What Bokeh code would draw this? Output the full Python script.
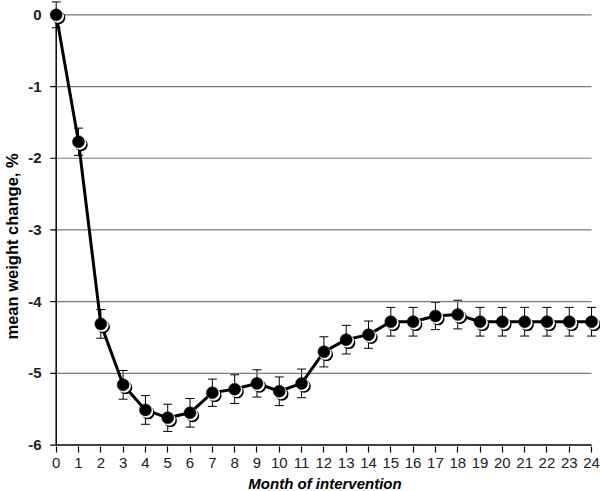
import numpy as np
from bokeh.plotting import figure
from bokeh.models import (ColumnDataSource, Whisker, TeeHead, FixedTicker, Range1d,
                          PrintfTickFormatter)
from bokeh.embed import file_html
from bokeh.resources import INLINE

months = list(range(0, 25))
mean_change = [0.0, -1.77, -4.31, -5.16, -5.51, -5.62, -5.55, -5.27, -5.22, -5.14,
               -5.25, -5.14, -4.70, -4.53, -4.46, -4.28, -4.28, -4.20, -4.18, -4.28,
               -4.28, -4.28, -4.28, -4.28, -4.28]
err = [0.18, 0.19, 0.2, 0.2, 0.2, 0.19, 0.2, 0.19, 0.2, 0.19,
       0.2, 0.2, 0.21, 0.2, 0.19, 0.2, 0.2, 0.19, 0.2, 0.2,
       0.2, 0.2, 0.2, 0.2, 0.2]
y_ticks = [-6, -5, -4, -3, -2, -1, 0]

X0, X1 = months[0], months[-1]
Y0, Y1 = y_ticks[0], y_ticks[-1]

m = np.array(months, dtype=float)
v = np.array(mean_change)
e = np.array(err)

src = ColumnDataSource(dict(x=m, y=v, lo=v - e, hi=v + e))
shadow = ColumnDataSource(dict(x=m + 0.12, y=v - 0.04))
ring = ColumnDataSource(dict(x=m + 0.06, y=v - 0.02))

FONT = "Liberation Sans"

p = figure(frame_width=551, frame_height=446,
           min_border_left=41, min_border_right=0, min_border_top=0, min_border_bottom=43,
           x_range=Range1d(X0 - 0.3, X1 + 0.4), y_range=Range1d(Y0 - 0.02, Y1 + 0.2),
           output_backend="svg", toolbar_location=None)

p.outline_line_color = None
p.background_fill_color = "white"
p.border_fill_color = "white"
p.xgrid.grid_line_color = None
p.ygrid.grid_line_color = None

# grid lines (drawn from the y axis to the last month)
grid_y = [t for t in y_ticks if t != Y0]
p.segment(x0=[X0] * len(grid_y), y0=grid_y, x1=[X1] * len(grid_y), y1=grid_y,
          line_color="#7a7a7a", line_width=1.2)
# y tick marks
p.segment(x0=[X0 - 0.27] * len(y_ticks), y0=y_ticks, x1=[X0] * len(y_ticks), y1=y_ticks,
          line_color="black", line_width=1.2)
# axis lines
p.segment(x0=[X0, X0], y0=[Y0, Y0], x1=[X0, X1], y1=[Y1, Y0],
          line_color="black", line_width=1.5)

p.xaxis.ticker = FixedTicker(ticks=months)
p.yaxis.ticker = FixedTicker(ticks=y_ticks)
p.yaxis.formatter = PrintfTickFormatter(format="%d")
for ax in (p.xaxis[0], p.yaxis[0]):
    ax.axis_line_color = None
    ax.major_tick_line_color = "black"
    ax.major_tick_line_width = 1.2
    ax.major_tick_out = 6
    ax.major_tick_in = 0
    ax.minor_tick_line_color = None
    ax.major_label_text_font = FONT
    ax.major_label_text_color = "#222222"
    ax.axis_label_text_font = FONT
    ax.axis_label_text_color = "black"

p.yaxis.major_tick_line_color = None
p.yaxis.major_tick_out = 0

p.xaxis.major_label_text_font_size = "15px"
p.xaxis.major_label_standoff = 5
p.xaxis.axis_label = "Month of intervention"
p.xaxis.axis_label_text_font_size = "15px"
p.xaxis.axis_label_text_font_style = "bold italic"
p.xaxis.axis_label_standoff = 4

p.yaxis.major_label_text_font_size = "15px"
p.yaxis.major_label_text_font_style = "bold"
p.yaxis.major_label_standoff = 8
# trailing no-break spaces push the rotated title a little lower, as in the original
p.yaxis.axis_label = "mean weight change, %" + "\u00a0" * 10
p.yaxis.axis_label_text_font_size = "16.5px"
p.yaxis.axis_label_text_font_style = "bold"
p.yaxis.axis_label_standoff = 4

# error bars
w = Whisker(source=src, base="x", upper="hi", lower="lo", dimension="height",
            line_color="black", line_width=1,
            upper_head=TeeHead(size=9, line_color="black", line_width=1),
            lower_head=TeeHead(size=9, line_color="black", line_width=1))
p.add_layout(w)

# line
p.line("x", "y", source=src, line_color="black", line_width=3)

# markers with shadow
p.scatter("x", "y", source=shadow, size=13, fill_color="black", line_color=None)
p.scatter("x", "y", source=ring, size=13, fill_color="white", line_color=None)
p.scatter("x", "y", source=src, size=12, fill_color="black", line_color="black", line_width=0.5)

open("out.html", "w").write(file_html(p, INLINE))
